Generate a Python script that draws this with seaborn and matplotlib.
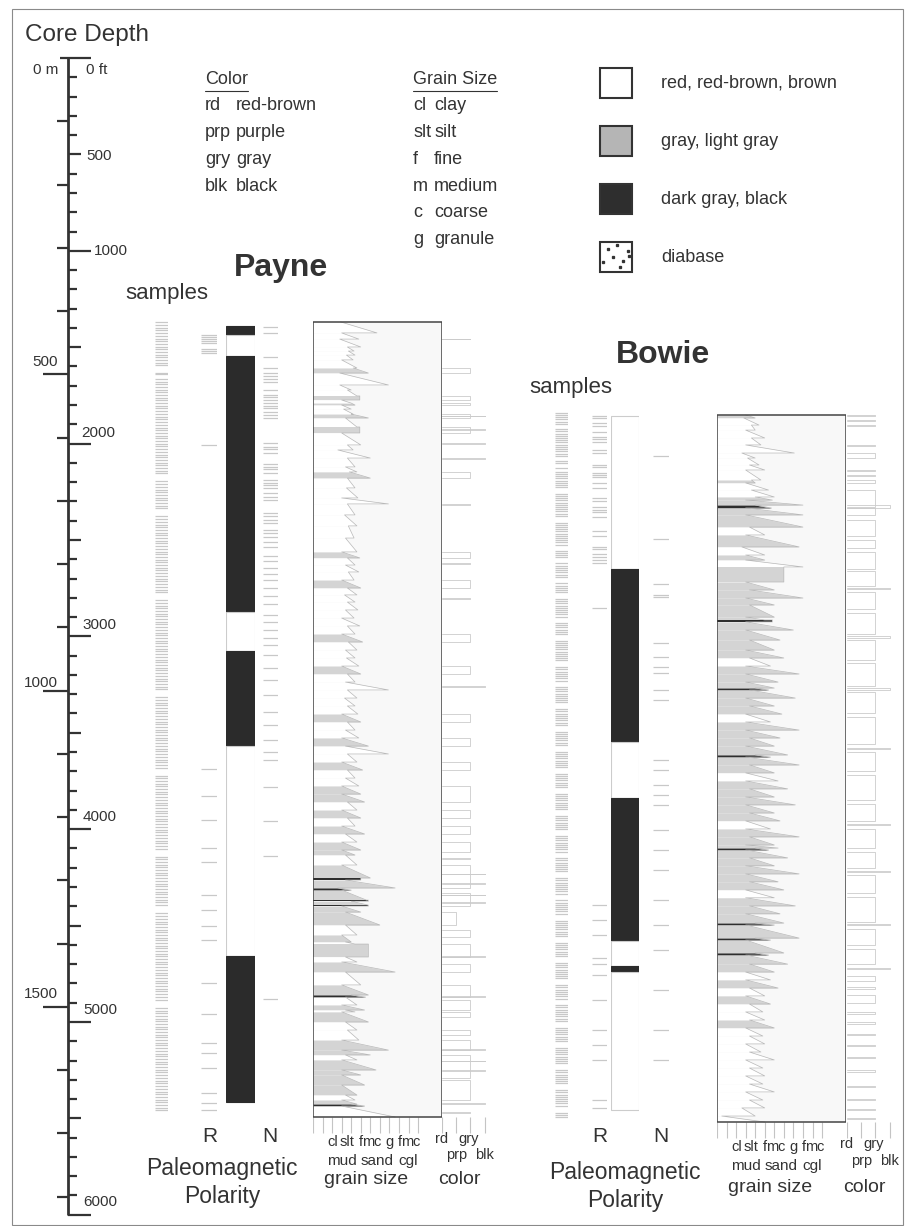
# Payne / Bowie core logs: depth scale, paleomagnetic polarity, grain size and colour logs
import numpy as np
import pandas as pd
import matplotlib
matplotlib.use("Agg")
import matplotlib.pyplot as plt
from matplotlib.patches import Rectangle
from matplotlib.lines import Line2D
from matplotlib.transforms import blended_transform_factory
import seaborn as sns

# ---------------------------------------------------------------- data
# all depths in ft below surface

# Payne grain-size log: bed boundaries, grain size at bed top / base, fill colour
payne_bounds = [1369,1426,1458,1499,1520,1541,1566,1608,1634,1696, 1722,1753,1774,1790,1800,1821,1847,1867,1914,1945,
                2007,2033,2075,2121,2147,2179,2230,2282,2313,2370, 2427,2490,2562,2593,2630,2666,2708,2749,2785,2822,
                2863,2905,2946,2988,3029,3071,3112,3154,3195,3237, 3278,3320,3361,3403,3444,3486,3527,3569,3610,3652,
                3693,3735,3776,3818,3859,3901,3942,3984,4025,4067, 4108,4134,4186,4253,4264,4305,4316,4368,4374,4394,
                4399,4430,4497,4549,4585,4596,4663,4689,4741,4808, 4860,4871,4912,4938,4948,5000,5042,5094,5146,5171,
                5197,5249,5275,5327,5379,5405,5426,5436,5493]
payne_gtop = [2.9,3.0,2.8,3.6,3.7,3.5,3.0,4.2,2.8,2.8, 3.6,4.9,3.0,4.0,3.0,3.2,4.0,3.4,4.9,3.0,
              3.6,2.6,3.6,3.4,3.8,3.6,3.5,3.0,3.6,3.3, 3.7,3.4,3.0,3.6,3.4,3.7,3.0,3.6,3.3,3.6,
              3.4,3.0,3.6,3.0,3.7,3.4,3.5,3.0,3.6,3.4, 3.6,3.3,3.6,3.0,3.6,3.4,3.0,3.4,3.6,3.0,
              3.6,3.4,3.0,3.0,3.6,3.0,3.6,3.0,3.4,3.0, 3.0,3.4,3.0,5.0,3.4,2.6,3.0,5.8,4.0,5.8,
              3.0,3.4,3.4,3.0,3.4,5.8,3.4,3.0,3.4,3.0, 4.0,3.4,3.0,3.4,3.0,3.4,3.6,3.0,3.0,3.4,
              3.0,3.0,3.0,3.0,3.4,3.0,4.0,3.0]
payne_gbase = [6.7,4.8,5.0,4.3,4.4,4.2,4.6,5.8,7.9,4.0, 4.6,4.9,4.0,4.4,4.0,4.2,5.8,4.6,4.9,5.0,
               4.2,6.0,4.4,4.6,6.0,4.4,4.7,7.9,4.4,4.6, 4.3,4.6,4.9,4.4,4.8,4.3,5.0,4.6,4.4,4.7,
               4.3,4.9,4.4,5.2,4.6,4.4,4.8,5.0,4.4,7.9, 4.6,4.4,4.7,5.0,4.4,4.8,5.8,7.9,4.6,5.2,
               4.4,4.8,5.0,5.4,4.6,5.0,4.4,5.4,4.6,5.0, 4.4,4.6,6.0,5.0,8.6,4.0,5.6,5.8,5.8,5.8,
               5.0,7.0,4.6,4.0,4.4,5.8,4.6,8.6,5.0,5.8, 5.5,4.6,5.4,4.4,5.8,4.6,4.8,7.9,6.0,4.6,
               6.6,5.0,5.4,4.6,4.4,4.6,5.4,8.6]
payne_fill = ("wwwwwwwgww" "wgwgwwgwgw" "wwwwgwwwww" "wwgwwwgwww" "wwwgwwwgww"
              "wwwgwwgwwg" "wwggwgwgwg" "gwgdgdgdgd" "ggwgwgwgwg" "dwgwgwwggw" "ggggwgdw")

# Bowie grain-size log
bowie_bounds = [1852,1867,1904,1930,1971,2007,2049,2075,2111,2137, 2189,2204,2241,2277,2293,2319,2334,2370,2433,2474,
                2536,2578,2604,2640,2718,2759,2801,2837,2900,2915, 2925,2967,3019,3071,3112,3154,3195,3237,3268,3278,
                3320,3361,3403,3444,3486,3527,3569,3615,3626,3667, 3708,3750,3791,3833,3874,3916,3957,3999,4040,4082,
                4098,4108,4149,4190,4232,4273,4315,4356,4398,4439, 4487,4497,4565,4575,4642,4653,4700,4741,4782,4824,
                4865,4907,4948,4990,5031,5073,5114,5156,5197,5239, 5280,5322,5363,5405,5446,5488,5519]
bowie_gtop = [3.0,2.8,3.6,3.0,3.6,3.0,2.6,3.2,3.4,3.0, 3.6,3.0,3.6,4.0,3.0,4.0,3.0,3.0,3.4,3.0,
              2.6,3.0,3.0,7.0,3.0,3.4,3.0,3.4,3.0,5.8, 3.0,3.0,3.4,3.0,3.4,3.0,3.0,3.0,4.0,3.4,
              3.0,3.4,3.0,3.0,3.0,3.4,3.0,4.0,3.0,3.4, 3.0,3.0,3.4,3.0,3.0,3.4,3.0,3.0,3.4,3.0,
              4.0,3.0,3.4,3.0,3.0,3.4,3.0,3.0,3.4,3.0, 4.0,3.0,4.0,3.0,4.0,3.0,3.4,3.0,3.0,3.4,
              3.0,3.4,3.0,3.4,3.0,3.4,3.0,3.4,3.0,3.4, 3.0,3.4,3.0,3.4,2.6,0.5]
bowie_gbase = [4.0,4.4,4.0,5.0,4.6,8.1,4.0,4.4,5.0,4.6, 4.0,5.4,6.0,5.8,9.0,5.7,9.0,9.0,5.0,8.6,
               5.0,5.0,9.0,7.0,6.0,9.0,6.0,6.0,5.0,5.8, 8.0,6.6,6.0,7.0,5.6,8.6,6.4,6.0,5.4,8.2,
               6.0,6.8,5.6,8.6,6.6,6.0,7.4,5.6,8.6,6.0, 6.4,7.4,6.0,8.2,6.0,6.6,5.6,8.6,6.0,6.4,
               5.4,7.4,6.0,8.6,6.4,7.0,6.0,8.2,6.6,7.0, 6.0,8.6,5.6,7.0,5.4,7.4,6.0,5.6,6.4,5.0,
               5.6,4.8,5.0,6.0,4.8,5.0,4.6,6.0,4.8,5.0, 4.8,6.0,4.8,5.0,4.0,5.0]
bowie_fill = ("gwwwwwwwww" "gwwggdggwg" "wgwggggggd" "ggggwgggdg" "ggwggggdgg"
              "wgggggwggg" "dgggggwggg" "dgdgdggwgw" "gwwgwwwwww" "wwwwww")

# colour logs: 0 rd, 1 prp, 2 gry, 3 blk
payne_col_top = [1455,1608,1753,1790,1847,1855,1914,1925,1995,2075, 2147,2313,2562,2620,2708,2800,2988,3154,3260,3403,
                 3527,3652,3776,3901,3984,4067,4150,4186,4230,4280, 4330,4340,4380,4430,4523,4596,4660,4700,4808,4865,
                 4886,4948,5042,5094,5140,5171,5200,5250,5300,5420, 5465]
payne_col_base = [1460,1634,1774,1800,1867,1859,1945,1929,2000,2079, 2179,2317,2593,2625,2749,2804,3029,3195,3264,3444,
                  3569,3693,3859,3942,4025,4117,4155,4305,4234,4284, 4399,4344,4385,4497,4560,4663,4664,4741,4871,4869,
                  4938,4975,5068,5146,5144,5290,5204,5254,5405,5426, 5470]
payne_col_code = [2,2,2,2,2,3,2,3,3,3, 2,2,2,2,2,2,2,2,3,2, 2,2,2,2,2,2,2,2,3,3,
                  2,3,3,1,2,2,3,2,2,3, 2,2,2,2,3,2,3,3,2,3, 2]
bowie_col_top = [1852,1880,1904,2005,2049,2137,2163,2189,2241,2319, 2334,2396,2500,2560,2660,2750,2770,2880,3000,3020,
                 3140,3270,3290,3420,3580,3600,3720,3870,3975,4000, 4120,4215,4240,4350,4490,4520,4620,4720,4760,4820,
                 4860,4950,5000,5060,5120,5180,5250,5330,5400,5450, 5500]
bowie_col_base = [1856,1884,1908,2010,2075,2142,2168,2204,2330,2334, 2370,2480,2540,2650,2740,2756,2860,2990,3006,3120,
                  3260,3276,3400,3560,3586,3700,3850,3960,3981,4100, 4200,4221,4330,4480,4496,4600,4700,4726,4790,4830,
                  4900,4960,5010,5070,5125,5185,5260,5340,5405,5455, 5505]
bowie_col_code = [2,2,2,2,2,2,2,2,2,3, 2,2,2,2,2,3,2,2,3,2, 2,3,2,2,3,2,2,2,3,2,
                  2,3,2,2,3,2,2,3,2,2, 2,2,2,2,2,2,2,2,2,2, 2]

# paleomagnetic polarity zones
payne_pol_top = [1390, 1437, 1546, 2874, 3076, 3569, 4658]
payne_pol_base = [1437, 1546, 2874, 3076, 3569, 4658, 5415]
payne_pol = ["R", "N", "R", "N", "R", "N", "R"]
bowie_pol_top = [1857, 2650, 3548, 3838, 4580, 4710, 4741]
bowie_pol_base = [2650, 3548, 3838, 4580, 4710, 4741, 5456]
bowie_pol = ["N", "R", "N", "R", "N", "R", "N"]

# sample depths and site polarity results
payne_samples = [1370,1385,1398,1413,1427,1440,1455,1469,1482,1497,1511,1524,1539,1553,1566,1581,1594,
    1632,1641,
    1664,1679,1692,1707,1721,1734,1749,1763,1776,1791,1805,1818,1833,1847,1860,1875,1889,1902,1917,1931,
    1944,1959,1973,1986,2001,2015,2028,2043,2057,2070,2085,2099,2112,2127,2141,2154,
    2196,2210,2224,2239,2252,2266,2281,2294,2308,2323,2336,
    2378,2392,2406,2421,2434,2448,2463,2476,2490,2505,2518,2532,2547,2560,2574,2589,2602,2616,2631,2644,
    2658,2673,2686,2700,2715,2728,2742,2757,2770,
    2812,2826,2841,2854,2868,2883,2896,2910,2925,2938,2952,2967,2980,2994,3009,3022,3036,3051,3064,3078,
    3093,3106,3120,3135,3148,3162,3177,3190,3204,3219,3232,3246,3261,3274,
    3316,3330,3345,3358,3372,3387,3400,3414,3429,3442,3456,3471,3484,3498,3513,3526,3540,3555,3568,3582,
    3597,3610,3624,3639,3652,3666,3681,
    3723,3736,3750,3765,3778,3792,3807,3820,3834,3849,3862,3876,3891,3904,3918,3933,3946,3960,3975,3988,
    4002,4017,4030,4044,4059,4072,4086,4101,
    4143,4156,4170,4185,4198,4212,4227,4240,4254,4269,4282,4296,4311,4324,4338,4353,4366,4380,4395,
    4437,4450,4464,4479,4492,4506,4521,4534,4548,4563,4576,4590,4605,4618,4632,4647,4660,4674,4689,4702,
    4716,4731,4744,4758,4773,4786,4800,4815,4828,4842,4857,4870,4884,
    4926,4941,4954,4968,4983,4996,5010,5025,5038,5052,5067,5080,5094,5109,5122,5136,5151,5164,5178,5193,
    5206,5220,5235,5248,5262,5277,5290,5304,5319,5332,5346,5361,5374,5388,5403,5416,5430,5445,5458]
payne_r = [1437,1447,1457,1468,1478,1510,1520,1530,2007,3690,3830,3950,4100,4170,4340,4420,4500,4575,
           4800,4960,5110,5160,5240,5370,5420,5455]
payne_n = [1395,1427,1551,1608,1634,1649,1665,1681,1722,1748,1758,1774,1790,1805,1815,1836,1852,1867,
           1997,2018,2028,2049,2106,2121,2132,2153,2189,2204,2215,2230,2256,2277,2293,2360,2376,2396,
           2412,2448,2464,2485,2510,2536,2583,2609,2645,2676,2707,2749,2790,2832,2889,2925,2967,3008,
           3044,3096,3164,3226,3304,3392,3460,3537,3600,3641,3780,3960,4140,4880]

bowie_samples = [1841,1852,1864,1875,1887,1898, 1925,1937,1948,1960,1971,1983,1994,2006,2017,2029,2040,2052,2063,
    2090,2102, 2128, 2146,2158,2169,2181,2192,2204,2215,2227, 2260,2272,2283,2295,2306,2318,2329,2341,2352,2364,2375,
    2410,2421,2433,2444,2456,2467,2479,2490,2502,2513,2525, 2555,2566,2578,2589, 2622,2634,2645,2657,2668,2680,2691,
    2725,2737,2748,2760,2771, 2805,2817,2828,2840,2851,2863,2874,2886,2897, 2930,2942,2953,2965,2976,2988,
    3022,3033,3045,3056,3068,3079,3091,3102,3114,3125, 3160,3171,3183,3194,3206,3217,3229,
    3262,3274,3285,3297,3308,3320,3331,3343, 3378,3389,3401,3412,3424,3435,3447,3458,
    3494,3505,3517,3528,3540,3551,3563, 3598,3609,3621,3632,3644,3655,3667,3678,
    3712,3724,3735,3747,3758,3770,3781, 3816,3828,3839,3851,3862,3874,3885,3897,
    3932,3943,3955,3966,3978,3989,4001, 4035,4047,4058,4070,4081,4093,4104,4116,
    4150,4162,4173,4185,4196,4208,4219, 4254,4266,4277,4289,4300,4312,4323,4335,
    4370,4381,4393,4404,4416,4427,4439, 4474,4485,4497,4508,4520,4531,4543,4554,
    4590,4601,4613,4624,4636,4647,4659, 4694,4705,4717,4728,4740,4751,4763,4774,
    4810,4821,4833,4844,4856,4867,4879, 4914,4925,4937,4948,4960,4971,4983,4994,
    5030,5041,5053,5064,5076,5087,5099, 5134,5145,5157,5168,5180,5191,5203,5214,
    5250,5261,5273,5284,5296,5307,5319, 5354,5365,5377,5388,5400,5411,5423,5434, 5470,5481,5493]
bowie_r = [1857,1867,1893,1909,1940,1966,1976,1992,2033,2049,2111,2121,2153,2163,2173,2204,2230,2282,2298,
           2329,2345,2355,2381,2453,2479,2536,2547,2573,2588,2604,2619,2853,4393,4470,4549,4668,4700,4756,
           4886,5042,5120,5197,5405,5446]
bowie_n = [2064,2495,2728,2785,2796,3034,3107,3159,3190,3278,3330,3641,3693,3771,3823,3875,4004,4108,
           4212,4367,4497,4627,4834,5042,5197]

# legend and axis labels
color_abbr = ["rd", "prp", "gry", "blk"]
color_names = ["red-brown", "purple", "gray", "black"]
grain_abbr = ["cl", "slt", "f", "m", "c", "g"]
grain_names = ["clay", "silt", "fine", "medium", "coarse", "granule"]
swatch_labels = ["red, red-brown, brown", "gray, light gray", "dark gray, black", "diabase"]
swatch_colors = ["white", "#b5b5b5", "#2e2e2e", "white"]
grain_ticks = list(range(12))
grain_tick_labels = ["cl", "slt", "f", "m", "c", "g", "f", "m", "c"]
grain_tick_pos = [2.1, 3.6, 5.0, 5.8, 6.7, 8.0, 9.1, 9.9, 10.8]
grain_groups = ["mud", "sand", "cgl"]
grain_group_pos = [3.0, 6.7, 10.0]
color_ticks = [0, 1, 2, 3]

# ---------------------------------------------------------------- layout
W, H = 905, 1226
Y0 = 58            # pixel row of 0 ft
FT_PER_PX = 5.187  # depth scale
GRAIN_PX = 9.55    # pixels per grain-size class
COLOR_PX = 14.2    # pixels per colour class
INK = "#333333"
LINE = "#b8b8b8"
TICK = "#c4c4c4"
FILL = {"w": "white", "g": "#d4d4d4", "d": "#2e2e2e"}
POL = {"R": "#2b2b2b", "N": "white"}


def px_to_ft(py):
    return (py - Y0) * FT_PER_PX


TOP, BOT = px_to_ft(0), px_to_ft(H)

sns.set_theme(style="white")
plt.rcParams["font.family"] = ["Liberation Sans", "DejaVu Sans"]

fig = plt.figure(figsize=(W / 100, H / 100), dpi=100)


def column(x0, x1, xlim=(0, 1)):
    ax = fig.add_axes([x0 / W, 0, (x1 - x0) / W, 1])
    ax.set_xlim(*xlim)
    ax.set_ylim(BOT, TOP)
    ax.axis("off")
    return ax


def put(x, y, s, size, **kw):
    kw.setdefault("va", "center")
    kw.setdefault("color", INK)
    return fig.text(x / W, 1 - y / H, s, fontsize=size, **kw)


def put_on(ax, x, y, s, size):
    tr = blended_transform_factory(ax.transData, fig.transFigure)
    ax.text(x, 1 - y / H, s, transform=tr, fontsize=size, ha="center", va="center", color=INK)


# ---------------------------------------------------------------- depth scale
sc = column(0, W, (0, W))
AX_X = 68
sc.vlines(AX_X, 0, 6000, color=INK, lw=2.0)
for d in range(0, 6001, 100):
    L = 23 if d % 1000 == 0 else (13 if d % 500 == 0 else 9)
    sc.hlines(d, AX_X, AX_X + L, color=INK, lw=1.6)
for m in range(0, 1801, 100):
    L = 8 if m == 0 else (25 if m % 500 == 0 else 11)
    sc.hlines(m * 3.2808, AX_X - L, AX_X, color=INK, lw=1.6)

for d, s, x, dy in [(0, "0 ft", 86, -12), (500, "500", 86, -2), (1000, "1000", 94, 0),
                    (2000, "2000", 81, 11), (3000, "3000", 82, 11), (4000, "4000", 83, 12),
                    (5000, "5000", 83, 12), (6000, "6000", 83, 13)]:
    sc.annotate(s, xy=(x, d), xytext=(0, dy * 0.72), textcoords="offset points",
                ha="left", va="center", fontsize=11, color=INK)
for m, s, dy in [(0, "0 m", -12), (500, "500", 12), (1000, "1000", 8), (1500, "1500", 13)]:
    sc.annotate(s, xy=(58, m * 3.2808), xytext=(0, dy * 0.72), textcoords="offset points",
                ha="right", va="center", fontsize=11, color=INK)

put(25, 35, "Core Depth", 17.5)

# ---------------------------------------------------------------- legends
renderer = fig.canvas.get_renderer()
for x, title in [(205, "Color"), (413, "Grain Size")]:
    t = put(x, 80, title, 13)
    bb = t.get_window_extent(renderer=renderer)
    fig.add_artist(Line2D([bb.x0 / W, bb.x1 / W], [(bb.y0 - 2) / H] * 2,
                          transform=fig.transFigure, color=INK, lw=0.8))
for i, (a, n) in enumerate(zip(color_abbr, color_names)):
    put(205, 106 + 26.7 * i, a, 13)
    put(236, 106 + 26.7 * i, n, 13)
for i, (a, n) in enumerate(zip(grain_abbr, grain_names)):
    put(413, 106 + 26.7 * i, a, 13)
    put(434, 106 + 26.7 * i, n, 13)

for i, (lab, fc) in enumerate(zip(swatch_labels, swatch_colors)):
    y = 68 + 58 * i
    fig.add_artist(Rectangle((600 / W, 1 - (y + 30) / H), 32 / W, 30 / H, transform=fig.transFigure,
                             facecolor=fc, edgecolor=INK, lw=1.5))
    put(661, y + 15, lab, 13)
dots = [(17, 3), (28, 9), (8, 7), (13, 15), (23, 19), (20, 25), (3, 20), (29, 14)]
fig.add_artist(Line2D([(600 + dx) / W for dx, dy in dots], [1 - (242 + dy) / H for dx, dy in dots],
                      transform=fig.transFigure, ls="none", marker="s", ms=1.4, color=INK))

# ---------------------------------------------------------------- logs


def ticks_col(x0, x1, depths):
    ax = column(x0, x1)
    ax.hlines(depths, 0, 1, color="#c8c8c8", lw=0.9)


def polarity(x0, x1, tops, bases, pol):
    ax = column(x0, x1)
    for t, b, p in zip(tops, bases, pol):
        ax.bar(0.5, b - t, bottom=t, width=1, color=POL[p],
               edgecolor="#2b2b2b" if p == "R" else "#cccccc", lw=0.8)


def grain_log(x0, bounds, gtop, gbase, fills, rows):
    xmax = 129 / GRAIN_PX
    ax = column(x0, x0 + 129, (0, xmax))
    bounds = np.asarray(bounds, float)
    top, base = bounds[0], bounds[-1]
    ax.add_patch(Rectangle((0, top), xmax, base - top, fc="#f8f8f8", ec="none", zorder=0))
    for i, code in enumerate(fills):
        ax.fill_betweenx([bounds[i], bounds[i + 1]], 0, [gtop[i], gbase[i]], color=FILL[code], lw=0, zorder=1)
    curve = pd.DataFrame({"depth": np.column_stack([bounds[:-1], bounds[1:]]).ravel(),
                          "grain": np.column_stack([gtop, gbase]).ravel()})
    sns.lineplot(data=curve, x="grain", y="depth", orient="y", sort=False, estimator=None,
                 color=LINE, lw=0.5, ax=ax, zorder=2)
    ax.add_patch(Rectangle((0, top), xmax, base - top, fill=False, ec="#444444", lw=1.1, zorder=3))
    ax.vlines(grain_ticks, base, base + 16 * FT_PER_PX, color=TICK, lw=0.8)
    for s, x in zip(grain_tick_labels, grain_tick_pos):
        put_on(ax, x, rows[0], s, 10.5)
    for s, x in zip(grain_groups, grain_group_pos):
        put_on(ax, x, rows[1], s, 11)
    put_on(ax, 5.6, rows[2], "grain size", 14)
    ax.set_xlim(0, xmax)
    ax.set_ylim(BOT, TOP)
    ax.axis("off")
    return base


def color_log(x0, base, tops, bases, codes, rows):
    ax = column(x0, x0 + 54, (0, 54 / COLOR_PX))
    recs = []
    for k, (t, b, c) in enumerate(zip(tops, bases, codes)):
        recs += [(k, t, 0), (k, t, c), (k, b, c), (k, b, 0)]
    df = pd.DataFrame(recs, columns=["bed", "depth", "code"])
    sns.lineplot(data=df, x="code", y="depth", units="bed", orient="y", sort=False, estimator=None,
                 color="#cbcbcb", lw=0.6, ax=ax)
    ax.vlines(color_ticks, base, base + 16 * FT_PER_PX, color=TICK, lw=0.8)
    put_on(ax, 0.0, rows[0], "rd", 10.5)
    put_on(ax, 1.9, rows[0], "gry", 10.5)
    put_on(ax, 1.0, rows[1], "prp", 10.5)
    put_on(ax, 3.0, rows[1], "blk", 10.5)
    put_on(ax, 1.2, rows[2], "color", 14)
    ax.set_xlim(0, 54 / COLOR_PX)
    ax.set_ylim(BOT, TOP)
    ax.axis("off")


# Payne
ticks_col(155, 168, payne_samples)
ticks_col(201, 217, payne_r)
ticks_col(263, 278, payne_n)
polarity(226, 255, payne_pol_top, payne_pol_base, payne_pol)
pb = grain_log(313, payne_bounds, payne_gtop, payne_gbase, payne_fill, (1142, 1161, 1180))
color_log(442, pb, payne_col_top, payne_col_base, payne_col_code, (1139, 1155, 1180))

# Bowie
ticks_col(555, 568, bowie_samples)
ticks_col(592, 607, bowie_r)
ticks_col(653, 669, bowie_n)
polarity(611, 639, bowie_pol_top, bowie_pol_base, bowie_pol)
bb_ = grain_log(717, bowie_bounds, bowie_gtop, bowie_gbase, bowie_fill, (1147, 1166, 1187))
color_log(847, bb_, bowie_col_top, bowie_col_base, bowie_col_code, (1144, 1161, 1187))

# ---------------------------------------------------------------- titles / labels
put(281, 268, "Payne", 23, weight="bold", ha="center")
put(663, 355, "Bowie", 23, weight="bold", ha="center")
put(167, 293, "samples", 16, ha="center")
put(571, 388, "samples", 16, ha="center")
for xr, xn, xc, y0 in [(210, 270, 222, 1168), (600, 661, 625, 1172)]:
    put(xr, 1137, "R", 15, ha="center")
    put(xn, 1137, "N", 15, ha="center")
    put(xc, y0, "Paleomagnetic", 16.5, ha="center")
    put(xc, y0 + 29, "Polarity", 16.5, ha="center")

fig.add_artist(Rectangle((12 / W, 1 - 1225 / H), 891 / W, 1216 / H, transform=fig.transFigure,
                         fill=False, ec="#8a8a8a", lw=0.8))

fig.savefig("out.png", dpi=100)
